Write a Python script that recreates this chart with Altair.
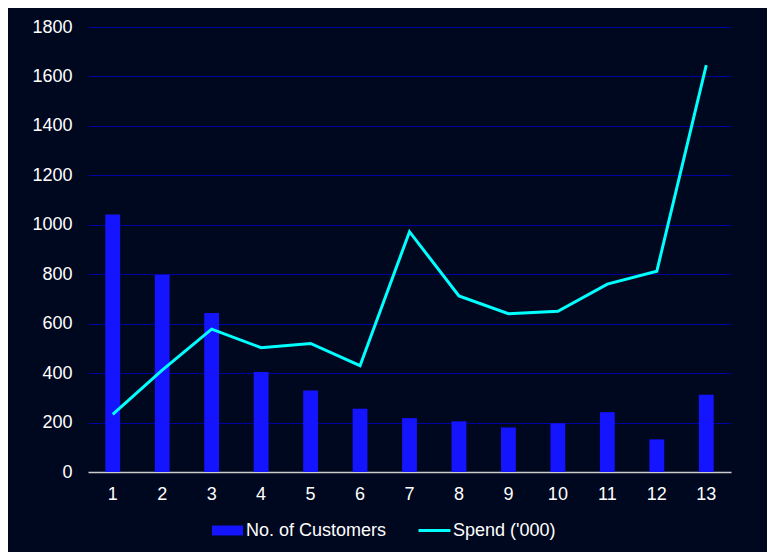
import altair as alt
import pandas as pd

categories = [1, 2, 3, 4, 5, 6, 7, 8, 9, 10, 11, 12, 13]
customers = [1042, 798, 643, 405, 330, 256, 218, 205, 180, 197, 242, 132, 312]
spend = [233, 412, 578, 503, 520, 430, 972, 712, 640, 650, 760, 812, 1646]

df = pd.DataFrame({"bucket": categories, "customers": customers, "spend": spend})

BG = "#00081F"
FONT = "Liberation Sans"
FS = 18

x = alt.X(
    "bucket:O",
    title=None,
    scale=alt.Scale(paddingInner=0.7, paddingOuter=0.35),
    axis=alt.Axis(
        labelAngle=0, labelColor="#FFFFFF", labelFontSize=FS, labelFont=FONT,
        labelPadding=13, ticks=False, domain=True, domainColor="#CCCCCC",
        domainWidth=1.5, grid=False,
    ),
)
yscale = alt.Scale(domain=[0, 1800])
yaxis = alt.Axis(
    values=list(range(0, 1801, 200)), format="d", labelColor="#FFFFFF",
    labelFontSize=FS, labelFont=FONT, labelPadding=16, ticks=False,
    domain=False, grid=True, gridColor="#0000A0", gridWidth=1, title=None,
)

bars = alt.Chart(df).transform_calculate(series="'No. of Customers'").mark_bar(
    color="#1414FF"
).encode(
    x=x,
    y=alt.Y("customers:Q", scale=yscale, axis=yaxis),
    fill=alt.Fill(
        "series:N",
        scale=alt.Scale(domain=["No. of Customers"], range=["#1414FF"]),
        legend=alt.Legend(
            title=None, orient="none", legendX=124, legendY=488,
            symbolType="M-1,-0.32H1V0.32H-1Z", symbolSize=961,
            symbolStrokeWidth=0, labelColor="#FFFFFF", labelFontSize=FS,
            labelFont=FONT, labelOffset=3,
        ),
    ),
)

line = alt.Chart(df).transform_calculate(series="'Spend (\\'000)'").mark_line(
    color="#00FFFF", strokeWidth=3
).encode(
    x=x,
    y=alt.Y("spend:Q", scale=yscale, axis=yaxis),
    stroke=alt.Stroke(
        "series:N",
        scale=alt.Scale(domain=["Spend ('000)"], range=["#00FFFF"]),
        legend=alt.Legend(
            title=None, orient="none", legendX=329, legendY=486,
            symbolType="stroke", symbolSize=1024, symbolStrokeWidth=3,
            labelColor="#FFFFFF", labelFontSize=FS, labelFont=FONT,
            labelOffset=1,
        ),
    ),
)

chart = alt.layer(bars, line).resolve_scale(fill="independent", stroke="independent").properties(
    width=643,
    height=445,
    background=BG,
    padding={"left": 80, "top": 19, "right": 36, "bottom": 80},
    autosize=alt.AutoSizeParams(type="none"),
).configure_view(stroke=None)

chart.save("out.html", embed_options={"renderer": "svg", "actions": False})
